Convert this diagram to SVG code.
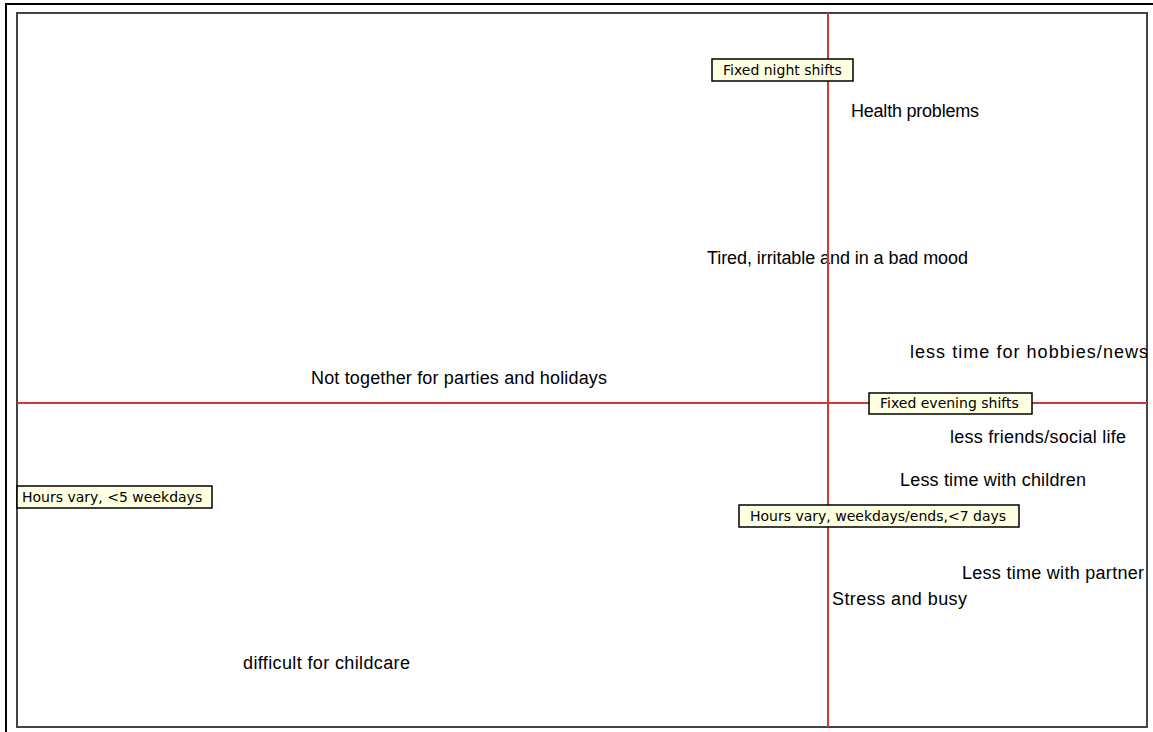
<svg xmlns="http://www.w3.org/2000/svg" width="1153" height="732" viewBox="0 0 1153 732">
<style>
.lbl{font-family:"Liberation Sans",Arial,sans-serif;font-size:18px;fill:#000}
.box rect{fill:#ffffe1;stroke:#000;stroke-width:1.5}
.box text{font-family:"DejaVu Sans",Verdana,sans-serif;font-size:14px;fill:#000}
.axis{stroke:#d0383a;stroke-width:2;fill:none}
</style>
<rect x="0" y="0" width="1153" height="732" fill="#fff"/>
<path d="M6,732 V4 H1153" fill="none" stroke="#000" stroke-width="2"/>
<rect x="17" y="13" width="1130" height="714" fill="#fff" stroke="#444" stroke-width="2"/>
<g id="texts">
<text id="t-health" class="lbl" x="851" y="117" textLength="128" lengthAdjust="spacing">Health problems</text>
<text id="t-tired" class="lbl" x="707" y="264" textLength="261" lengthAdjust="spacing">Tired, irritable and in a bad mood</text>
<text id="t-hobbies" class="lbl" x="910" y="358" textLength="238" lengthAdjust="spacing">less time for hobbies/news</text>
<text id="t-parties" class="lbl" x="311" y="384" textLength="296" lengthAdjust="spacing">Not together for parties and holidays</text>
<text id="t-friends" class="lbl" x="950" y="443" textLength="176" lengthAdjust="spacing">less friends/social life</text>
<text id="t-children" class="lbl" x="900" y="486" textLength="186" lengthAdjust="spacing">Less time with children</text>
<text id="t-partner" class="lbl" x="962" y="579" textLength="182" lengthAdjust="spacing">Less time with partner</text>
<text id="t-stress" class="lbl" x="832" y="605" textLength="135" lengthAdjust="spacing">Stress and busy</text>
<text id="t-childcare" class="lbl" x="243" y="669" textLength="167" lengthAdjust="spacing">difficult for childcare</text>
</g>
<g id="connectors">
<line class="axis" x1="828" y1="13" x2="828" y2="727"/>
<line class="axis" x1="17" y1="403" x2="1147" y2="403"/>
</g>
<g id="n-night" class="box">
<rect x="712" y="59" width="141" height="22"/>
<text x="723" y="75">Fixed night shifts</text>
</g>
<g id="n-evening" class="box">
<rect x="869" y="393" width="163" height="21"/>
<text x="880" y="408">Fixed evening shifts</text>
</g>
<g id="n-weekends" class="box">
<rect x="739" y="505" width="280" height="22"/>
<text x="750" y="521">Hours vary, weekdays/ends,&lt;7 days</text>
</g>
<g id="n-weekdays" class="box">
<rect x="17" y="486" width="195" height="22"/>
<text x="22" y="502">Hours vary, &lt;5 weekdays</text>
</g>
</svg>
